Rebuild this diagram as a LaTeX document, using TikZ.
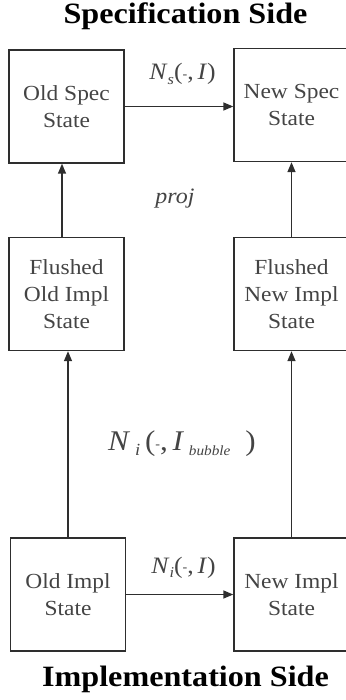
\documentclass[tikz,border=0pt]{standalone}
\usepackage{fontspec}
\setmainfont{Liberation Serif}[FakeStretch=1.09]
\usetikzlibrary{arrows.meta}
\definecolor{ink}{HTML}{2E2E2E}
\definecolor{txt}{HTML}{444444}
% lowered italic subscript in text mode
\newcommand{\lowsub}[2]{\raisebox{-0.4ex}{\fontsize{#1}{#1}\selectfont\textit{#2}}}
\newcommand{\smalldash}{\raisebox{0.15ex}{\fontsize{13}{13}\selectfont -}}
\begin{document}
\begin{tikzpicture}[x=1pt,y=-1pt,
  statebox/.style={draw=ink, line width=1.4pt, minimum width=115pt, minimum height=113pt,
    align=center, font=\fontsize{21.5}{27}\selectfont, text=txt, inner sep=0pt},
  flow/.style={draw=ink, line width=1.4pt, -{Triangle[length=10pt,width=8pt]}},
  sidetitle/.style={font=\fontsize{29.5}{32}\selectfont\bfseries, inner sep=0pt, anchor=base},
  lbl/.style={font=\fontsize{23.5}{26}\selectfont, text=txt, inner sep=0pt, anchor=base}]

\useasboundingbox (0,0) rectangle (345,700);

% states
\node[statebox] (os) at (66.5,106.5) {Old Spec\\State};
\node[statebox] (ns) at (291.5,105) {New Spec\\State};
\node[statebox] (fo) at (66.5,294) {Flushed\\Old Impl\\State};
\node[statebox] (fn) at (291.5,294) {Flushed\\New Impl\\State};
\node[statebox] (oi) at (68,594.5) {Old Impl\\State};
\node[statebox] (ni) at (291.5,594.5) {New Impl\\State};

% side titles
\node[sidetitle] (spec) at (185.5,24) {Specification Side};
\node[sidetitle] (impl) at (185.5,686) {Implementation Side};

% transitions
\draw[flow] (os.east) -- (ns.west |- os.east);
\draw[flow] (oi.east) -- (ni.west |- oi.east);
\draw[flow] ([xshift=-4.5pt]fo.north) -- ([xshift=-4.5pt]os.south);
\draw[flow] (fn.north) -- (ns.south);
\draw[flow] (oi.north) -- (oi.north |- fo.south);
\draw[flow] (ni.north) -- (fn.south);

% labels
\node[lbl] (ls) at (182.5,80) {\textit{N}\lowsub{15}{s}(\smalldash,\,\textit{I})};
\node[lbl] (li) at (183.5,573) {\textit{N}\lowsub{15}{i}(\smalldash,\,\textit{I})};
\node[lbl, font=\fontsize{22}{24}\selectfont] (lp) at (175,204) {\textit{proj}};
\node[lbl, font=\fontsize{28.5}{30}\selectfont] (lb) at (182,450)
  {\textit{N}\,\lowsub{17}{i}\,(\smalldash,\,\textit{I}\,\lowsub{14}{bubble}\hspace{15pt})};
\end{tikzpicture}
\end{document}
